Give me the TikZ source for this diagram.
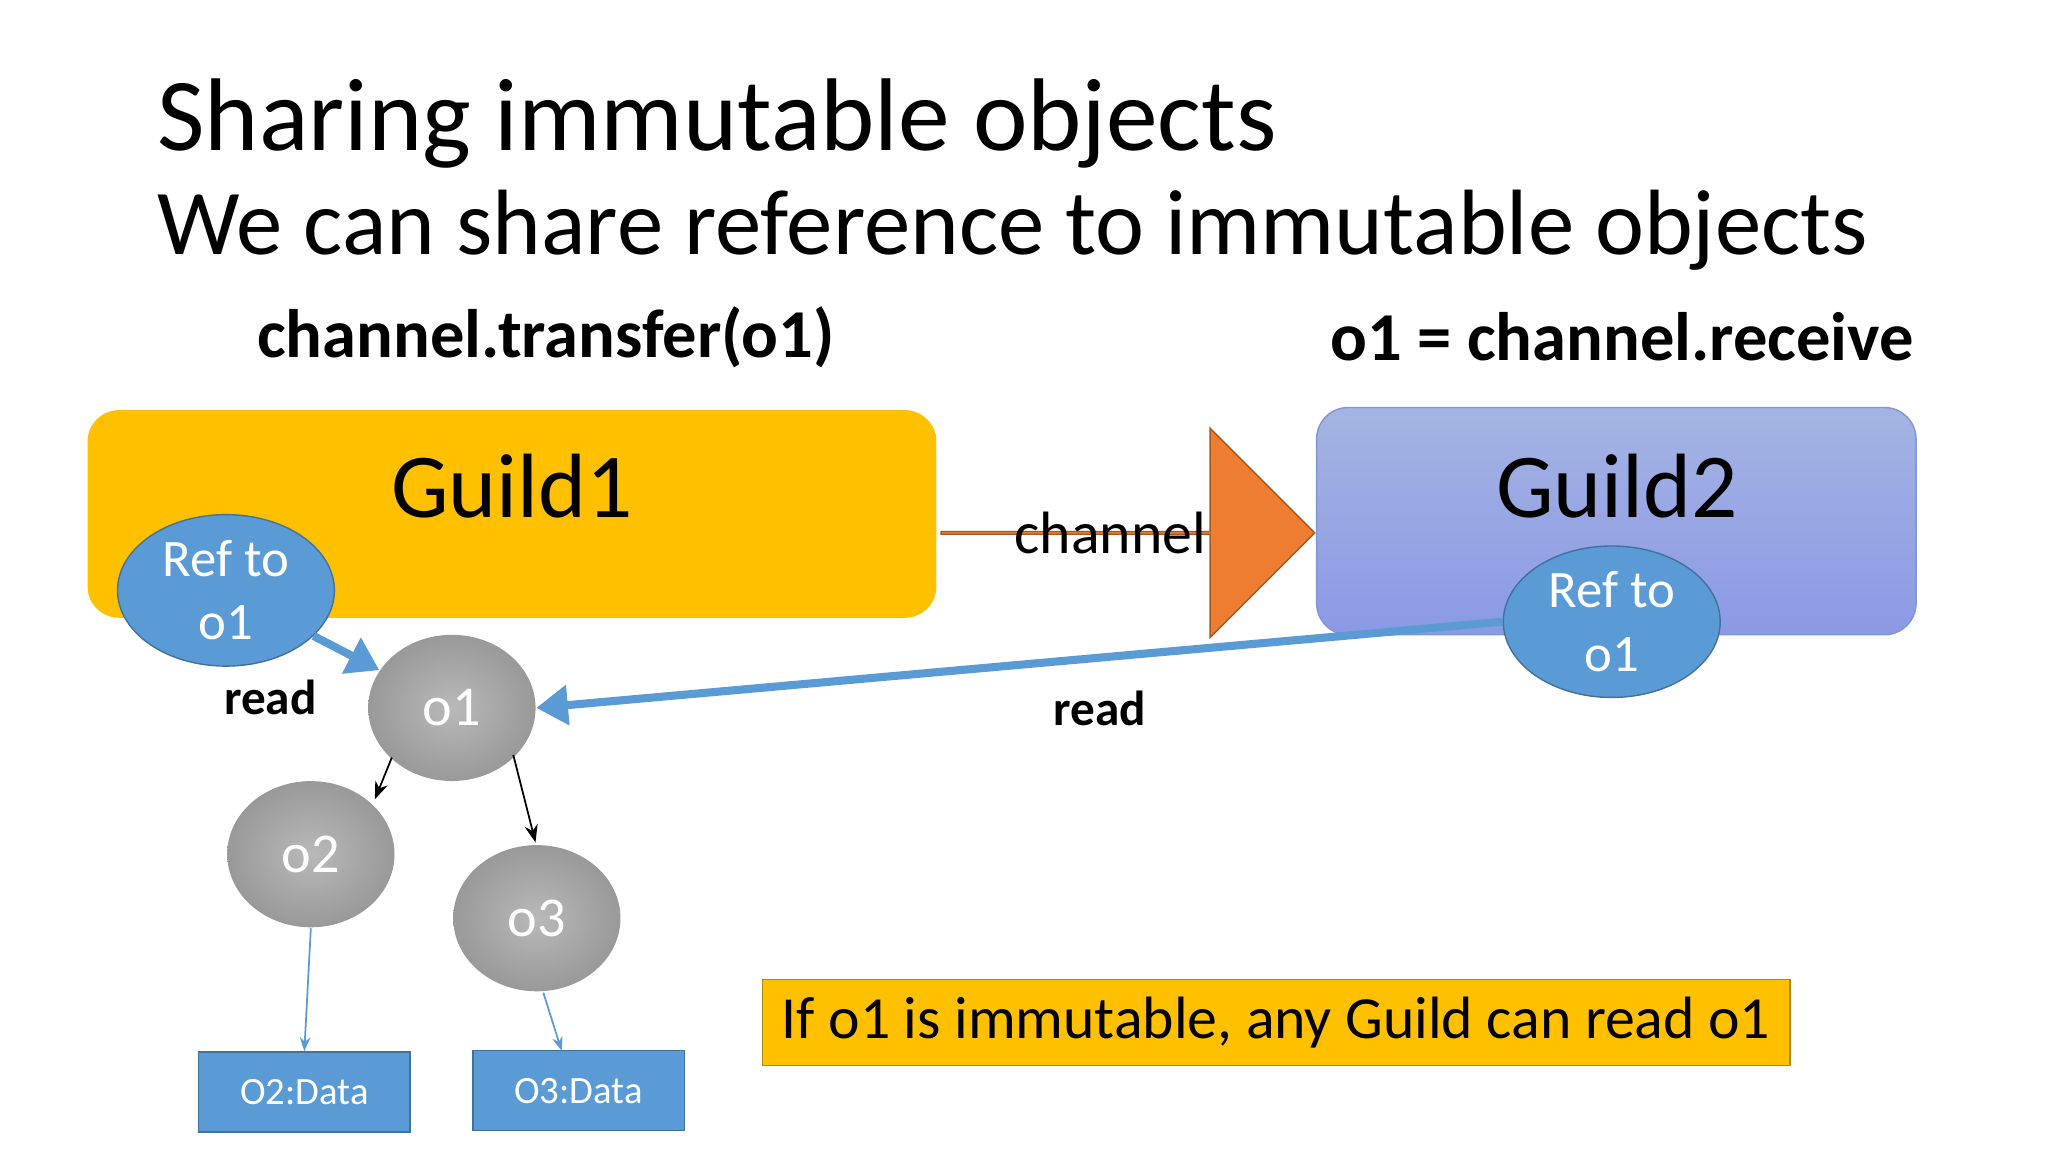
\documentclass[tikz,border=0pt]{standalone}
\usepackage{fontspec}
\setmainfont{Carlito}
\usetikzlibrary{shapes.arrows,shapes.geometric,arrows.meta}
\definecolor{gold}{HTML}{FFC000}
\definecolor{blu}{HTML}{5B9BD5}
\definecolor{blub}{HTML}{41719C}
\definecolor{org}{HTML}{ED7D31}
\definecolor{g2}{HTML}{A4B4E2}
\definecolor{g2b}{HTML}{7F96D0}
\begin{document}
\begin{tikzpicture}[x=0.013061cm,y=-0.013061cm,
  ref/.style={ellipse,draw=blub,fill=blu,text=white,minimum width=61.7pt,minimum height=43.1pt,inner sep=0pt,align=center,font=\fontsize{15}{18}\selectfont},
  obj/.style={ellipse,draw=none,inner color=gray!55,outer color=gray!80,text=white,minimum width=47.6pt,minimum height=41.6pt,inner sep=0pt,font=\fontsize{16}{18}\selectfont},
  data/.style={draw=blub,fill=blu,text=white,minimum width=60.2pt,minimum height=22.7pt,inner sep=0pt,font=\fontsize{11}{13}\selectfont},
  lbl/.style={font=\bfseries\fontsize{19.5}{22}\selectfont},
  bigarr/.style={draw=blu,line width=2.3pt,-{Triangle[length=9pt,width=11pt]}},
  thinb/.style={draw=blu,line width=0.5pt,-{Stealth[length=4pt]}},
  thinK/.style={draw=black,line width=0.5pt,-{Stealth[length=5pt]}}]
\useasboundingbox (0,0) rectangle (1568,882);
\fill[white] (0,0) rectangle (1568,882);
\node[anchor=base west,inner sep=0,font=\fontsize{29.4}{34}\selectfont] (t1) at (120,115) {Sharing immutable objects};
\node[anchor=base west,inner sep=0,font=\fontsize{26.4}{30}\selectfont] (t2) at (120,195) {We can share reference to immutable objects};
\node[lbl] (l1) at (418,258) {channel.transfer(o1)};
\node[lbl] (l2) at (1242,258) {o1 = channel.receive};
\draw[fill=gold,draw=none,rounded corners=9pt] (67,314) rectangle (717,473);
\node[font=\fontsize{26}{30}\selectfont] (g1) at (392,372) {Guild1};
\draw[top color=g2,bottom color=g2!85!blue,draw=g2b,rounded corners=9pt] (1008,312) rectangle (1467,486);
\node[font=\fontsize{26}{30}\selectfont] (g2) at (1238,372) {Guild2};
\node[single arrow,draw=org!70!black,fill=org,minimum width=59.5pt,single arrow head extend=14.9pt,minimum height=106.3pt,inner sep=0pt,anchor=west] (ch) at (720,408) {};
\node[font=\fontsize{17}{20}\selectfont] at (850,408) {channel};
\node[ref] (r1) at (173,452) {Ref to\\o1};
\node[obj] (o1) at (346,542) {o1};
\node[ref] (r2) at (1234,476) {Ref to\\o1};
\node[obj] (o2) at (238,654) {o2};
\node[obj] (o3) at (411,703) {o3};
\node[data] (d2) at (233,836) {O2:Data};
\node[data] (d3) at (443,835) {O3:Data};
\draw[bigarr] (r1) -- (o1);
\draw[bigarr] (r2.west) -- (o1.east);
\node[lbl,font=\bfseries\fontsize{14}{16}\selectfont] at (207,534) {read};
\node[lbl,font=\bfseries\fontsize{14}{16}\selectfont] at (842,542) {read};
\draw[thinK] (300,580) -- (287,612);
\draw[thinK] (393,578) -- (410,645);
\draw[thinb] (o2.south) -- (d2.north);
\draw[thinb] (416,760) -- (430,804.5);
\node[draw=gold!70!black,fill=gold,minimum width=292.4pt,minimum height=24.5pt,inner sep=0pt,font=\fontsize{17}{20}\selectfont] (n) at (977,783) {If o1 is immutable, any Guild can read o1};
\end{tikzpicture}
\end{document}
